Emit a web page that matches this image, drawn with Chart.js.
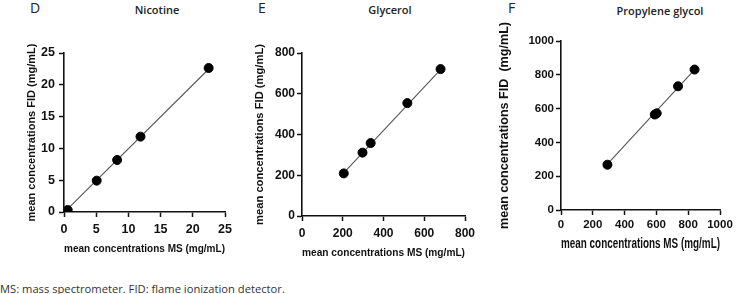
<!DOCTYPE html>
<html>
<head>
<meta charset="utf-8">
<script src="https://cdn.jsdelivr.net/npm/chart.js@4.4.1/dist/chart.umd.min.js"></script>
<style>
  html, body { margin: 0; padding: 0; background: #fff; }
  body { width: 744px; height: 294px; position: relative; overflow: hidden; font-family: "Open Sans", "Noto Sans", sans-serif; }
  .box { position: absolute; }
  .lbl { position: absolute; color: #222; }
  .letter { font-size: 14px; }
  .ttl { font-size: 11px; font-weight: 600; transform: translateX(-50%); white-space: nowrap; }
  .foot { position: absolute; left: 0; top: 281px; font-size: 11.2px; color: #333; white-space: nowrap; }
</style>
</head>
<body>
<div class="lbl letter" style="left:30px;top:-2px">D</div>
<div class="lbl ttl" style="left:157px;top:2px">Nicotine</div>
<div class="lbl letter" style="left:258px;top:-2px">E</div>
<div class="lbl ttl" style="left:390px;top:2px">Glycerol</div>
<div class="lbl letter" style="left:508px;top:-2px">F</div>
<div class="lbl ttl" style="left:660px;top:3px">Propylene glycol</div>

<div class="box" style="left:0px;top:0px;width:250px;height:260px"><canvas id="cD"></canvas></div>
<div class="box" style="left:250px;top:0px;width:250px;height:262px"><canvas id="cE"></canvas></div>
<div class="box" style="left:490px;top:0px;width:254px;height:256px"><canvas id="cF"></canvas></div>

<div class="foot">MS: mass spectrometer. FID: flame ionization detector.</div>

<script>
// Nicotine (D)
const nicotineMS  = [0.57, 5.08, 8.25, 11.88, 22.46];
const nicotineFID = [0.31, 4.93, 8.18, 11.85, 22.64];
const nicotineFitX = [0.5, 22.6];
const nicotineFitY = [0.4, 22.6];
const nicotineTicks = [0, 5, 10, 15, 20, 25];

// Glycerol (E)
const glycerolMS  = [205, 297, 337, 517, 680];
const glycerolFID = [209, 311, 358, 554, 721];
const glycerolFitX = [205, 680];
const glycerolFitY = [212, 719];
const glycerolTicks = [0, 200, 400, 600, 800];

// Propylene glycol (F)
const propyleneMS  = [292, 590, 602, 736, 840];
const propyleneFID = [268, 565, 572, 732, 831];
const propyleneFitX = [292, 840];
const propyleneFitY = [272, 830];
const propyleneTicks = [0, 200, 400, 600, 800, 1000];

const xTitle = 'mean concentrations MS (mg/mL)';
const FONT = '"Liberation Sans", Arial, sans-serif';

function pts(xs, ys) {
  return xs.map((x, i) => ({ x: x, y: ys[i] }));
}

function makePanel(id, opt) {
  const maxV = opt.ticks[opt.ticks.length - 1];
  const axisCommon = (pos) => ({
    type: 'linear',
    position: pos,
    min: 0,
    max: maxV,
    afterBuildTicks: (s) => { s.ticks = opt.ticks.map(v => ({ value: v })); },
    grid: { display: true, drawOnChartArea: false, drawTicks: true, tickLength: 5, color: '#111', tickWidth: 1.5 },
    border: { display: true, color: '#111', width: 1.6 },
    ticks: {
      color: '#111',
      font: { family: FONT, size: opt.tickSize, weight: 'bold' },
      maxRotation: 0,
      autoSkip: false,
      callback: (v) => String(v)
    }
  });

  const xs = axisCommon('bottom');
  xs.ticks.padding = opt.xTickPad;
  xs.title = {
    display: true, text: xTitle, color: '#111',
    font: { family: FONT, size: opt.xTitleSize, weight: 'bold' },
    padding: { top: 0, bottom: opt.xTitlePad }
  };
  xs.afterFit = (s) => { s.height = opt.xH; };

  const ys = axisCommon('left');
  ys.ticks.padding = opt.yTickPad;
  ys.title = {
    display: true, text: opt.yTitle, color: '#111',
    font: { family: FONT, size: opt.yTitleSize, weight: 'bold' },
    padding: { top: opt.yTitlePad, bottom: 0 }
  };
  ys.afterFit = (s) => { s.width = opt.yW; };

  new Chart(document.getElementById(id), {
    type: 'scatter',
    data: {
      datasets: [
        {
          data: pts(opt.x, opt.y),
          backgroundColor: '#000',
          borderColor: '#000',
          pointRadius: 4.5,
          pointHoverRadius: 4.5
        },
        {
          type: 'line',
          data: pts(opt.fx, opt.fy),
          borderColor: '#555',
          borderWidth: 1.1,
          pointRadius: 0,
          fill: false
        }
      ]
    },
    options: {
      responsive: true,
      maintainAspectRatio: false,
      animation: false,
      layout: { padding: { top: opt.padTop, right: opt.padRight, left: 0, bottom: 0 } },
      plugins: { legend: { display: false }, tooltip: { enabled: false } },
      scales: { x: xs, y: ys }
    }
  });
}

makePanel('cD', {
  x: nicotineMS, y: nicotineFID, fx: nicotineFitX, fy: nicotineFitY, ticks: nicotineTicks,
  yTitle: 'mean concentrations FID (mg/mL)',
  tickSize: 12.5, xTitleSize: 11, yTitleSize: 11,
  yW: 64, xH: 48, padTop: 53, padRight: 25,
  xTickPad: 5, yTickPad: 4, xTitlePad: 4, yTitlePad: 25
});

makePanel('cE', {
  x: glycerolMS, y: glycerolFID, fx: glycerolFitX, fy: glycerolFitY, ticks: glycerolTicks,
  yTitle: 'mean concentrations FID (mg/mL)',
  tickSize: 12, xTitleSize: 11.2, yTitleSize: 11.2,
  yW: 52, xH: 46, padTop: 53, padRight: 35,
  xTickPad: 5, yTickPad: 2, xTitlePad: 2, yTitlePad: 3
});

makePanel('cF', {
  x: propyleneMS, y: propyleneFID, fx: propyleneFitX, fy: propyleneFitY, ticks: propyleneTicks,
  yTitle: 'mean concentrations FID  (mg/mL)',
  tickSize: 11.5, xTitleSize: 14, yTitleSize: 12.6,
  yW: 71, xH: 46, padTop: 41, padRight: 24,
  xTickPad: 3, yTickPad: 2, xTitlePad: 3, yTitlePad: 7
});
</script>
</body>
</html>
